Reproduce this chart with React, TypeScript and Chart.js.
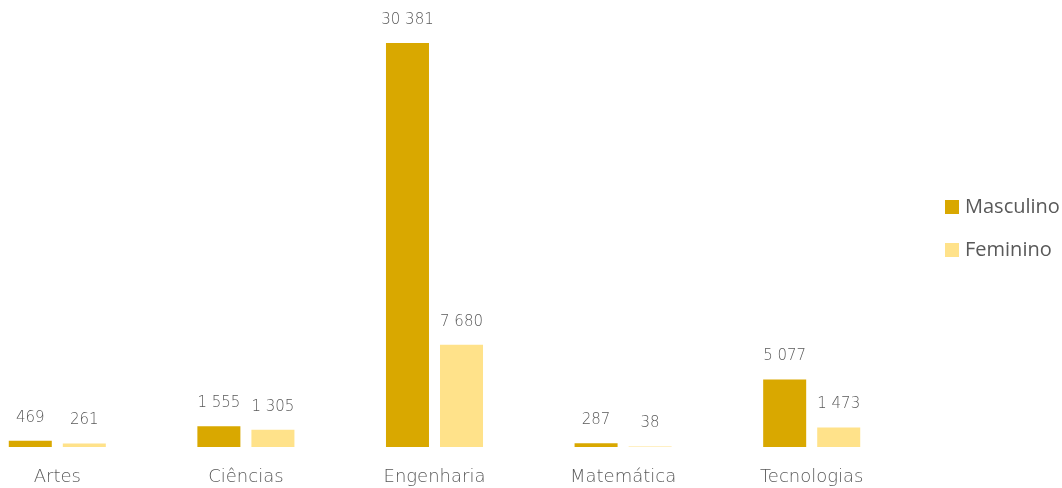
import React, { useEffect, useRef } from "react";
import { Chart, registerables } from "chart.js";

Chart.register(...registerables);

const categories = ["Artes", "Ciências", "Engenharia", "Matemática", "Tecnologias"];
const masculino = [469, 1555, 30381, 287, 5077];
const feminino = [261, 1305, 7680, 38, 1473];
const seriesNames = ["Masculino", "Feminino"];
const seriesColors = ["#D9A800", "#FFE28A"];

const fmt = (n: number) => n.toString().replace(/\B(?=(\d{3})+(?!\d))/g, " ");

const valueLabels = {
  id: "valueLabels",
  afterDatasetsDraw(chart: any) {
    const ctx = chart.ctx;
    ctx.save();
    ctx.font = "200 15px 'DejaVu Sans'";
    ctx.fillStyle = "#595959";
    ctx.textAlign = "center";
    ctx.textBaseline = "middle";
    chart.data.datasets.forEach((ds: any, i: number) => {
      const meta = chart.getDatasetMeta(i);
      meta.data.forEach((el: any, j: number) => {
        ctx.fillText(fmt(ds.data[j]), el.x, el.y - 23);
      });
    });
    ctx.restore();
  },
};

// Legend drawn at the right of the chart area, vertically stacked
const sideLegend = {
  id: "sideLegend",
  afterDraw(chart: any) {
    const ctx = chart.ctx;
    const x0 = chart.chartArea.right + 39;
    const yCenter = 228.5;
    const step = 43;
    ctx.save();
    ctx.font = "20px 'Open Sans'";
    ctx.textAlign = "left";
    ctx.textBaseline = "middle";
    chart.data.datasets.forEach((ds: any, i: number) => {
      const y = yCenter + (i - (chart.data.datasets.length - 1) / 2) * step;
      ctx.fillStyle = ds.backgroundColor;
      ctx.fillRect(x0, y - 7, 14, 14);
      ctx.fillStyle = "#595959";
      ctx.fillText(ds.label, x0 + 20, y);
    });
    ctx.restore();
  },
};

export default function App() {
  const ref = useRef<HTMLCanvasElement>(null);
  useEffect(() => {
    const chart = new Chart(ref.current!, {
      type: "bar",
      data: {
        labels: categories,
        datasets: [
          { label: seriesNames[0], data: masculino, backgroundColor: seriesColors[0] },
          { label: seriesNames[1], data: feminino, backgroundColor: seriesColors[1] },
        ],
      },
      options: {
        animation: false,
        responsive: false,
        maintainAspectRatio: false,
        layout: { padding: { top: 10, bottom: 0, left: 0, right: 156 } },
        datasets: {
          bar: { categoryPercentage: 0.573, barPercentage: 0.796 },
        },
        plugins: {
          tooltip: { enabled: false },
          legend: { display: false },
        },
        scales: {
          x: {
            grid: { display: false },
            border: { display: false },
            afterFit: (s: any) => {
              s.height = 41;
            },
            ticks: {
              color: "#595959",
              padding: 12,
              font: { family: "'DejaVu Sans'", size: 18, weight: "200" },
            },
          },
          y: {
            display: false,
            min: 0,
            max: 32862,
          },
        },
      },
      plugins: [valueLabels, sideLegend],
    });
    return () => chart.destroy();
  }, []);
  return (
    <div style={{ position: "absolute", left: -37, top: 0, width: 1099, height: 488 }}>
      <canvas ref={ref} width={1099} height={488} />
    </div>
  );
}
